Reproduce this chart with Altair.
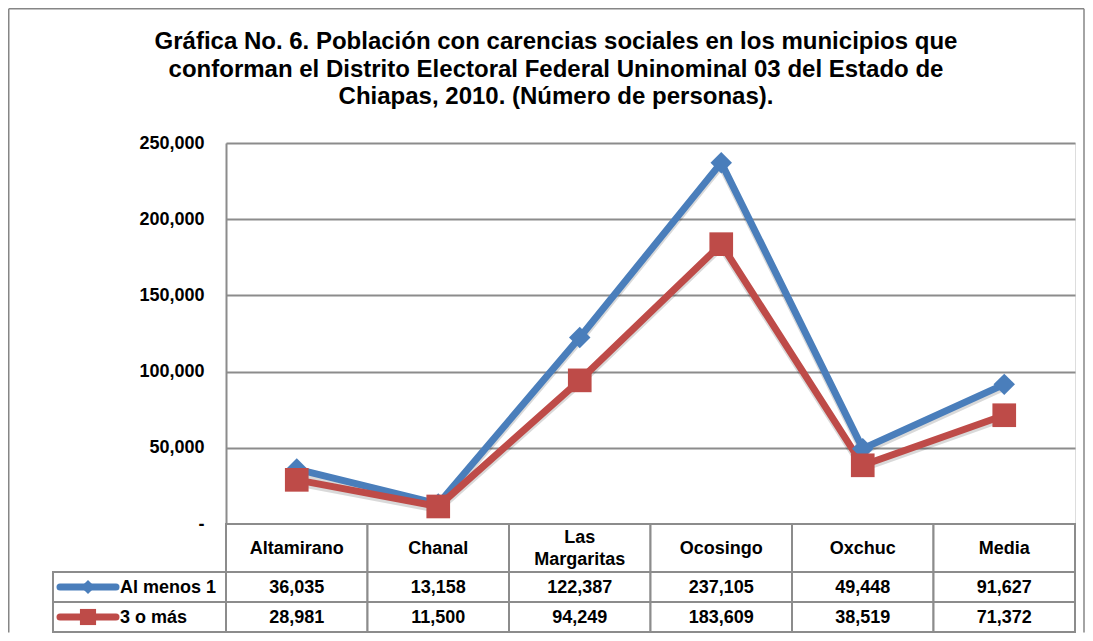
import altair as alt
import pandas as pd

# ---------------- data ----------------
categories = ["Altamirano", "Chanal", "Las Margaritas", "Ocosingo", "Oxchuc", "Media"]
series_names = ["Al menos 1", "3 o más"]
al_menos_1 = [36035, 13158, 122387, 237105, 49448, 91627]
tres_o_mas = [28981, 11500, 94249, 183609, 38519, 71372]
y_ticks = [0, 50000, 100000, 150000, 200000, 250000]
title_lines = [
    "Gráfica No. 6. Población con carencias sociales en los municipios que",
    "conforman el Distrito Electoral Federal Uninominal 03 del Estado de",
    "Chiapas, 2010. (Número de personas).",
]

# ---------------- layout / style ----------------
W, H = 849, 381
Y_MAX = 250000
FONT = "Liberation Sans"
BLUE = "#4A7EBB"
RED = "#BE4B48"
GRID = "#8C8C8C"
COLORS = [BLUE, RED]
HEADER_TOP, HEADER_BOT = H, H + 48
ROW_BOUNDS = [(H + 48, H + 78), (H + 78, H + 108)]
LEG_LEFT = -173
LINE_H = 22

rows = []
for s, vals in zip(series_names, [al_menos_1, tres_o_mas]):
    for c, v in zip(categories, vals):
        rows.append({"cat": c, "series": s, "value": v})
df = pd.DataFrame(rows)
df_cat = pd.DataFrame({"cat": categories})
df_ser = pd.DataFrame({"series": series_names})
df_title = pd.DataFrame({"line": title_lines, "i": list(range(len(title_lines)))})

xs = alt.Scale(type="band", domain=categories, paddingInner=0, paddingOuter=0)
X = alt.X("cat:N", scale=xs, axis=None)
ys = alt.Scale(domain=[0, Y_MAX], nice=False, zero=True)
Y_AX = alt.Axis(
    values=y_ticks, title=None,
    labelExpr="datum.value == 0 ? '-\u00a0\u00a0' : format(datum.value, ',')",
    labelFont=FONT, labelFontSize=18, labelFontWeight="bold", labelColor="#000",
    labelPadding=22, ticks=False, domain=True, domainColor=GRID, domainWidth=2,
    grid=True, gridColor=GRID, gridWidth=2,
)
color = alt.Color("series:N", scale=alt.Scale(domain=series_names, range=COLORS), legend=None)
shape = alt.Shape("series:N", scale=alt.Scale(domain=series_names, range=["diamond", "square"]), legend=None)
size = alt.Size("series:N", scale=alt.Scale(domain=series_names, range=[460, 560]), legend=None)

layers = []

# outer frame (top, left, right edges)
frame = alt.Chart(pd.DataFrame({"a": [0]}))
layers.append(frame.mark_rule(stroke="#868686", strokeWidth=1.5).encode(
    x=alt.value(-217.25), x2=alt.value(858), y=alt.value(-134.25)))
layers.append(frame.mark_rule(stroke="#868686", strokeWidth=1.5).encode(
    x=alt.value(-217.25), y=alt.value(-134.25), y2=alt.value(ROW_BOUNDS[1][1] + 0.5)))
layers.append(frame.mark_rule(stroke="#868686", strokeWidth=1.5).encode(
    x=alt.value(858), y=alt.value(-134.25), y2=alt.value(ROW_BOUNDS[1][1] + 0.5)))

# title
layers.append(alt.Chart(df_title).mark_text(
    font=FONT, fontSize=24, fontWeight="bold", color="#000", align="center", baseline="middle"
).transform_calculate(py="-101 + datum.i * 27.5").encode(
    x=alt.value(330), y=alt.Y("py:Q", scale=None), text="line:N"))

# table header cells + text
hdr_mid = (HEADER_TOP + HEADER_BOT) / 2 + 1
layers.append(alt.Chart(df_cat).mark_rect(fill="white", stroke=GRID, strokeWidth=2).encode(
    x=X, y=alt.value(HEADER_TOP), y2=alt.value(HEADER_BOT)))
layers.append(alt.Chart(df_cat).mark_text(
    font=FONT, fontSize=18, fontWeight="bold", color="#000", baseline="middle"
).transform_filter("indexof(datum.cat, ' ') < 0").encode(
    x=X, y=alt.value(hdr_mid), text="cat:N"))
layers.append(alt.Chart(df_cat).mark_text(
    font=FONT, fontSize=18, fontWeight="bold", color="#000", baseline="middle",
    lineBreak=" ", lineHeight=LINE_H
).transform_filter("indexof(datum.cat, ' ') >= 0").encode(
    x=X, y=alt.value(hdr_mid - LINE_H / 2), text="cat:N"))

# data rows
for s, (t, b) in zip(series_names, ROW_BOUNDS):
    d = df[df.series == s]
    layers.append(alt.Chart(d).mark_rect(fill="white", stroke=GRID, strokeWidth=2).encode(
        x=X, y=alt.value(t), y2=alt.value(b)))
    layers.append(alt.Chart(d).mark_text(
        font=FONT, fontSize=18, fontWeight="bold", color="#000", baseline="middle"
    ).encode(x=X, y=alt.value((t + b) / 2 + 1), text=alt.Text("value:Q", format=",")))
    ds = df_ser[df_ser.series == s]
    layers.append(alt.Chart(ds).mark_rect(fill="white", stroke=GRID, strokeWidth=2).encode(
        x=alt.value(LEG_LEFT), x2=alt.value(0), y=alt.value(t), y2=alt.value(b)))
    layers.append(alt.Chart(ds).mark_rule(strokeWidth=7, strokeCap="round").encode(
        x=alt.value(LEG_LEFT + 7), x2=alt.value(LEG_LEFT + 63), y=alt.value((t + b) / 2),
        color=color))
    layers.append(alt.Chart(ds).mark_point(filled=True, opacity=1).encode(
        x=alt.value(LEG_LEFT + 35), y=alt.value((t + b) / 2), color=color, shape=shape,
        size=alt.value(200 if s == series_names[0] else 260)))
    layers.append(alt.Chart(ds).mark_text(
        font=FONT, fontSize=18, fontWeight="bold", color="#000", align="left", baseline="middle"
    ).encode(x=alt.value(LEG_LEFT + 67), y=alt.value((t + b) / 2 + 1), text="series:N"))

# lines (with soft shadow)
base = alt.Chart(df)
layers.append(base.mark_line(strokeWidth=7, color="#000", opacity=0.15).transform_calculate(
    sh=f"datum.value - 3 * {Y_MAX} / {H}").encode(
    x=X, y=alt.Y("sh:Q", scale=ys, axis=Y_AX), detail="series:N"))
layers.append(base.mark_line(strokeWidth=7).encode(
    x=X, y=alt.Y("value:Q", scale=ys, axis=Y_AX), color=color))
layers.append(base.mark_point(filled=True, opacity=1).encode(
    x=X, y=alt.Y("value:Q", scale=ys, axis=Y_AX), color=color, shape=shape, size=size))

chart = alt.layer(*layers).properties(
    width=W, height=H, padding=0
).configure_view(stroke=None).configure(background="white")

chart.save("out.html", embed_options={"renderer": "svg", "actions": False})
